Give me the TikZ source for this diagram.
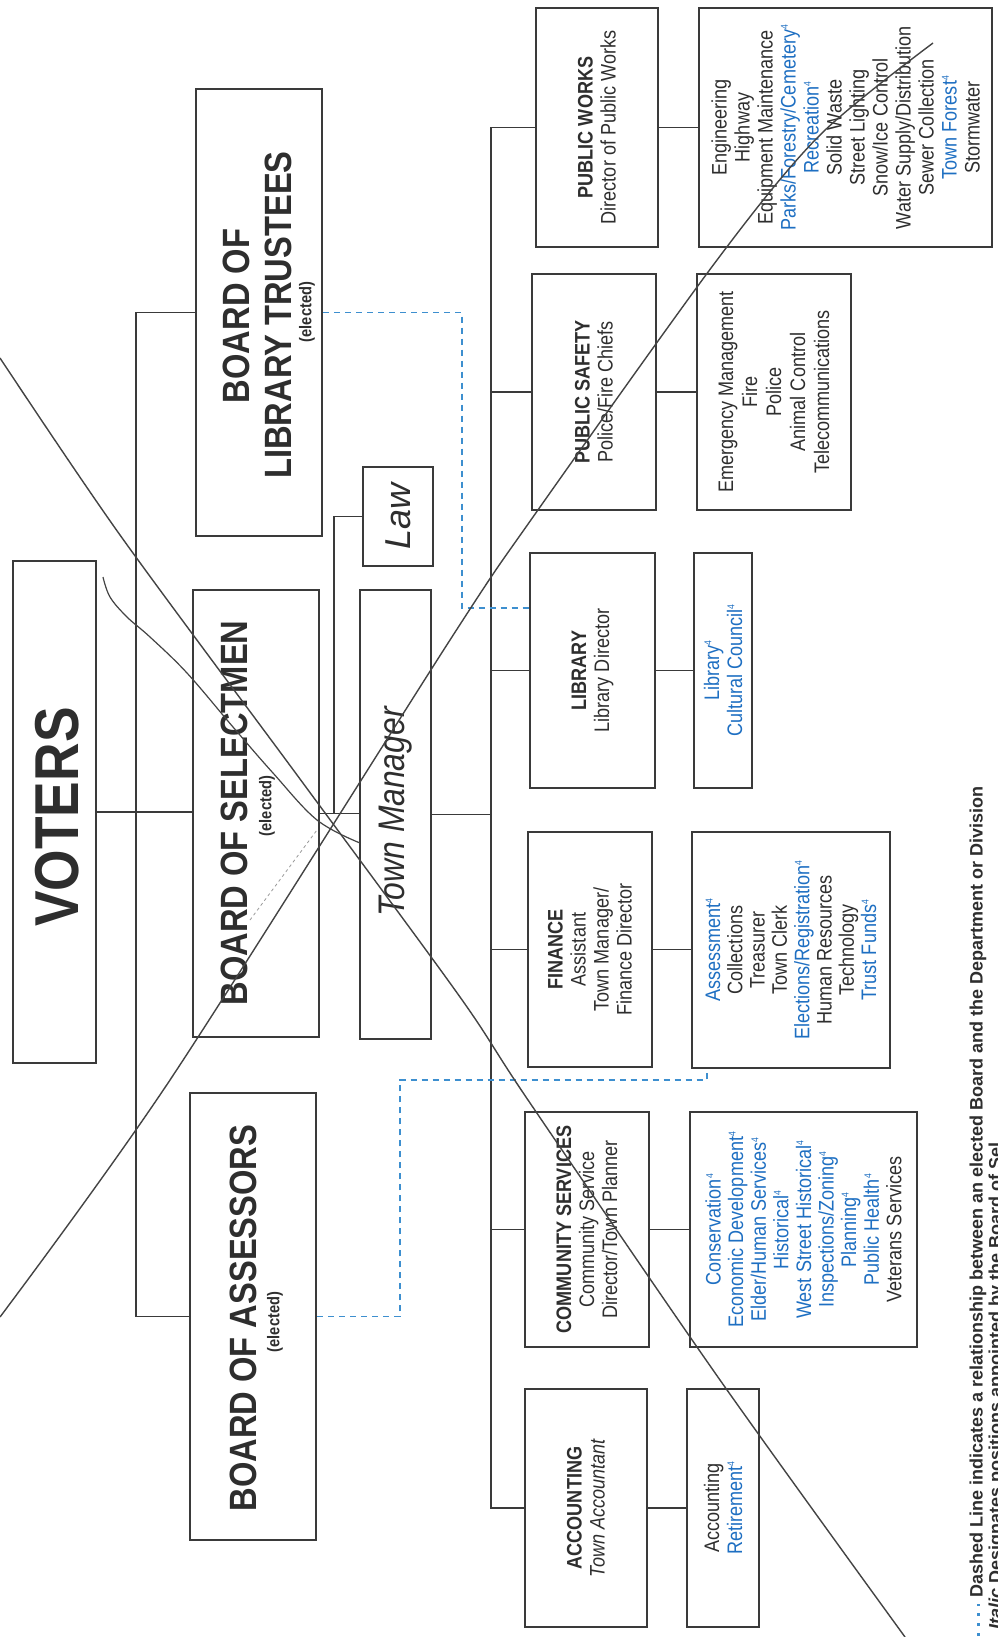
\documentclass[tikz,border=0pt]{standalone}
\usepackage{fontspec}
\setmainfont{Liberation Sans}
\newfontfamily\cnd[FakeStretch=0.86]{Liberation Sans}
\usetikzlibrary{calc}
\definecolor{linec}{HTML}{3A3A3A}
\definecolor{textc}{HTML}{2E2E2E}
\definecolor{bluet}{HTML}{1E6FC2}
\definecolor{blued}{HTML}{3D8FCF}
\definecolor{scrib}{HTML}{444444}
\definecolor{faint}{HTML}{9A9A9A}
\newcommand{\mk}{\textsuperscript{\fontsize{10}{10}\selectfont 4}}
\newcommand{\bl}[1]{\textcolor{bluet}{#1}}
\begin{document}
\begin{tikzpicture}[x=1pt,y=-1pt,
 box/.style={draw=linec,line width=2.2pt,inner sep=0pt,fill=white},
 conn/.style={draw=linec,line width=1.8pt},
 reldash/.style={draw=blued,line width=1.8pt,dash pattern=on 6pt off 5pt},
 scribble/.style={draw=scrib,line width=1.4pt},
 vt/.style={rotate=90,align=center,inner sep=0pt,text=textc},
 board/.style={vt,font=\cnd\bfseries\fontsize{38}{40}\selectfont},
 elect/.style={vt,font=\cnd\bfseries\fontsize{17}{17}\selectfont},
 dept/.style={vt,font=\cnd\fontsize{21}{23}\selectfont},
 detail/.style={vt,font=\cnd\fontsize{21}{23}\selectfont},
 legend/.style={vt,anchor=west,font=\bfseries\fontsize{18}{18}\selectfont},
]
\useasboundingbox (0,0) rectangle (997,1637);
\fill[white] (0,0) rectangle (997,1637);
\clip (0,0) rectangle (997,1637);

% ---------- boxes ----------
\node[box, minimum width=83pt, minimum height=502pt] (voters) at (54.5,812) {};
\node[box, minimum width=126pt, minimum height=447pt] (sel) at (256,813.5) {};
\node[box, minimum width=126pt, minimum height=447pt] (blt) at (259,312.5) {};
\node[box, minimum width=126pt, minimum height=447pt] (ass) at (253,1316.5) {};
\node[box, minimum width=70pt, minimum height=99pt] (law) at (398,516.5) {};
\node[box, minimum width=71pt, minimum height=449pt] (tm) at (395.5,814.5) {};

\node[box, minimum width=122pt, minimum height=239pt] (pw) at (597,127.5) {};
\node[box, minimum width=293pt, minimum height=239pt] (pwd) at (845.5,127.5) {};
\node[box, minimum width=124pt, minimum height=236pt] (ps) at (594,392) {};
\node[box, minimum width=154pt, minimum height=236pt] (psd) at (774,392) {};
\node[box, minimum width=125pt, minimum height=235pt] (lib) at (592.5,670.5) {};
\node[box, minimum width=58pt, minimum height=235pt] (libd) at (723,670.5) {};
\node[box, minimum width=124pt, minimum height=235pt] (fin) at (590,949.5) {};
\node[box, minimum width=198pt, minimum height=236pt] (find) at (791,950) {};
\node[box, minimum width=124pt, minimum height=235pt] (cs) at (587,1229.5) {};
\node[box, minimum width=227pt, minimum height=235pt] (csd) at (803.5,1229.5) {};
\node[box, minimum width=122pt, minimum height=238pt] (acc) at (586,1508) {};
\node[box, minimum width=72pt, minimum height=238pt] (accd) at (723,1508) {};

% ---------- connectors ----------
\coordinate (bbus) at (136,812);
\coordinate (lawj) at (334,813.5);
\coordinate (dbus) at (491,814.5);
\draw[conn] (voters.east) -- (voters.east -| sel.west);
\draw[conn] (blt.west) -| (bbus) |- (ass.west);
\draw[conn] (sel.east) -- (sel.east -| tm.west);
\draw[conn] (law.west) -| (lawj);
\draw[conn] (tm.east) -- (dbus);
\draw[conn] (pw.west) -| (dbus) |- (acc.west);
\draw[conn] (ps.west) -- (ps.west -| dbus);
\draw[conn] (lib.west) -- (lib.west -| dbus);
\draw[conn] (fin.west) -- (fin.west -| dbus);
\draw[conn] (cs.west) -- (cs.west -| dbus);
\draw[conn] (pw.east) -- (pw.east -| pwd.west);
\draw[conn] (ps.east) -- (ps.east -| psd.west);
\draw[conn] (lib.east) -- (lib.east -| libd.west);
\draw[conn] (fin.east) -- (fin.east -| find.west);
\draw[conn] (cs.east) -- (cs.east -| csd.west);
\draw[conn] (acc.east) -- (acc.east -| accd.west);

% dashed relationships
\coordinate (d1) at (462,608);
\draw[reldash] (blt.east) -| (d1) -- (d1 -| lib.west);
\coordinate (d2) at (400,1080);
\coordinate (d3) at ($(find.south west)+(16,0)$);
\draw[reldash] (ass.east) -| (d2) -| (d3);

% ---------- texts ----------
\node[board, font=\cnd\bfseries\fontsize{62}{62}\selectfont] (votersT) at (57,817) {VOTERS};
\node[board] (selT) at (234,813) {BOARD OF SELECTMEN};
\node[elect] (selE) at (267,806) {(elected)};
\node[board] (bltT1) at (236,316) {BOARD OF};
\node[board] (bltT2) at (278,315) {LIBRARY TRUSTEES};
\node[elect] (bltE) at (307,312) {(elected)};
\node[board] (assT) at (243,1318) {BOARD OF ASSESSORS};
\node[elect] (assE) at (275,1322) {(elected)};
\node[vt, font=\itshape\fontsize{36}{36}\selectfont] (lawT) at (398,516.5) {Law};
\node[vt, font=\cnd\itshape\fontsize{37}{37}\selectfont] (tmT) at (395.5,812) {Town Manager};

\node[dept] (pwT) at (pw.center) {\textbf{PUBLIC WORKS}\\Director of Public Works};
\node[dept] (psT) at (ps.center) {\textbf{PUBLIC SAFETY}\\Police/Fire Chiefs};
\node[dept] (libT) at (lib.center) {\textbf{LIBRARY}\\Library Director};
\node[dept] (finT) at (fin.center) {\textbf{FINANCE}\\Assistant\\Town Manager/\\Finance Director};
\node[dept] (csT) at (cs.center) {\textbf{COMMUNITY SERVICES}\\Community Service\\Director/Town Planner};
\node[dept] (accT) at (acc.center) {\textbf{ACCOUNTING}\\\textit{Town Accountant}};

\node[detail] (pwdT) at (pwd.center) {Engineering\\Highway\\Equipment Maintenance\\\bl{Parks/Forestry/Cemetery\mk}\\\bl{Recreation\mk}\\Solid Waste\\Street Lighting\\Snow/Ice Control\\Water Supply/Distribution\\Sewer Collection\\\bl{Town Forest\mk}\\Stormwater};
\node[detail, font=\cnd\fontsize{21}{24}\selectfont] (psdT) at (psd.center) {Emergency Management\\Fire\\Police\\Animal Control\\Telecommunications};
\node[detail] (libdT) at (libd.center) {\bl{Library\mk}\\\bl{Cultural Council\mk}};
\node[detail, font=\cnd\fontsize{21}{22.3}\selectfont] (findT) at (find.center) {\bl{Assessment\mk}\\Collections\\Treasurer\\Town Clerk\\\bl{Elections/Registration\mk}\\Human Resources\\Technology\\\bl{Trust Funds\mk}};
\node[detail, font=\cnd\fontsize{21}{22.6}\selectfont] (csdT) at (csd.center) {\bl{Conservation\mk}\\\bl{Economic Development\mk}\\\bl{Elder/Human Services\mk}\\\bl{Historical\mk}\\\bl{West Street Historical\mk}\\\bl{Inspections/Zoning\mk}\\\bl{Planning\mk}\\\bl{Public Health\mk}\\Veterans Services};
\node[detail] (accdT) at (accd.center) {Accounting\\\bl{Retirement\mk}};

% ---------- legend ----------
\coordinate (lm1) at (978,1636);
\coordinate (lm2) at (978,1604);
\draw[draw=blued,line width=3pt,dash pattern=on 3pt off 7pt] (lm1) -- (lm2);
\node[legend] (leg1) at (978,1598) {Dashed Line indicates a relationship between an elected Board and the Department or Division};
\node[legend] (leg2) at (997,1630) {\textit{Italic} Designates positions appointed by the Board of Sel};

% ---------- scribbled strike lines ----------
\draw[scribble] plot[smooth, tension=0.5] coordinates {(0,358) (120,535) (300,779) (460,997) (528,1100) (720,1380) (905,1637)};
\draw[scribble] plot[smooth, tension=0.5] coordinates {(0,1317) (170,1080) (450,640) (533,517) (717,260) (820,135) (933,43)};
\draw[scribble, line width=1.2pt] plot[smooth, tension=0.6] coordinates {(103,577) (110,597) (127,617) (150,637) (187,673) (233,727) (273,773) (317,820) (360,843)};
\draw[draw=faint, line width=0.8pt, dashed] (250,920) -- (317,830);
\end{tikzpicture}
\end{document}
